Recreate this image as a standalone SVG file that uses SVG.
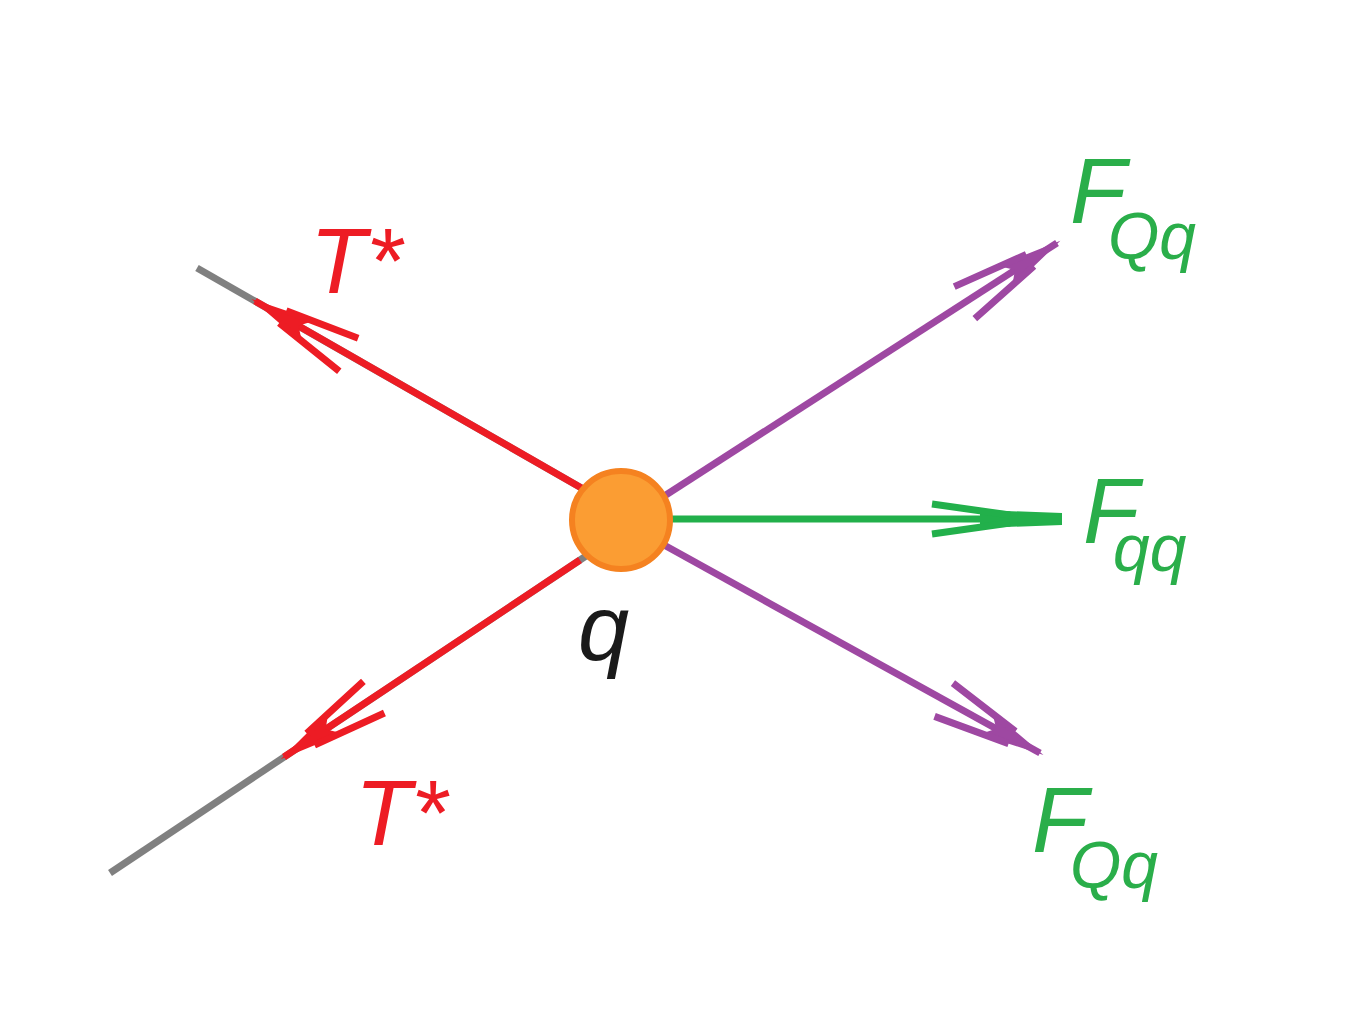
<svg xmlns="http://www.w3.org/2000/svg" width="1345" height="1024" viewBox="0 0 1345 1024">
<style>
.lbl{font-family:"Liberation Sans","Open Sans",sans-serif;font-style:italic}
.red{fill:#ed1c24}
.grn{fill:#2aae4a}
.ln{fill:none;stroke-width:7;stroke-linecap:butt}
</style>
<defs>
<marker id="ahRed" markerUnits="userSpaceOnUse" orient="auto" refX="0" refY="0" markerWidth="10" markerHeight="10" overflow="visible">
<path d="M4,0 L-62,-13 L-50,0 L-62,13 Z" fill="#ed1c24"/>
<path d="M-32,-7 L-108,-19 M-32,7 L-108,19" stroke="#ed1c24" stroke-width="7" fill="none"/>
</marker>
<marker id="ahPur" markerUnits="userSpaceOnUse" orient="auto" refX="0" refY="0" markerWidth="10" markerHeight="10" overflow="visible">
<path d="M4,0 L-62,-13 L-50,0 L-62,13 Z" fill="#9e48a2"/>
<path d="M-32,-7 L-110,-19 M-32,7 L-110,19" stroke="#9e48a2" stroke-width="7" fill="none"/>
</marker>
<marker id="ahGrn" markerUnits="userSpaceOnUse" orient="auto" refX="0" refY="0" markerWidth="10" markerHeight="10" overflow="visible">
<path d="M2,-6 L-80,-9 L-80,9 L2,6 Z" fill="#22b04b"/>
<path d="M-50,-4 L-128,-15 M-50,4 L-128,15" stroke="#22b04b" stroke-width="7" fill="none"/>
</marker>
</defs>
<rect width="1345" height="1024" fill="#ffffff"/>
<g id="connectors">
<line class="ln" x1="197" y1="268" x2="585" y2="490" stroke="#808080"/>
<line class="ln" x1="585" y1="490" x2="255" y2="301" stroke="#ed1c24" marker-end="url(#ahRed)"/>
<line class="ln" x1="110" y1="873" x2="592" y2="552" stroke="#808080"/>
<line class="ln" x1="580" y1="560" x2="284" y2="757" stroke="#ed1c24" marker-end="url(#ahRed)"/>
<line class="ln" x1="655" y1="502" x2="1057" y2="243" stroke="#9e48a2" marker-end="url(#ahPur)"/>
<line class="ln" x1="660" y1="519" x2="1060" y2="519" stroke="#22b04b" marker-end="url(#ahGrn)"/>
<line class="ln" x1="655" y1="540" x2="1040" y2="753" stroke="#9e48a2" marker-end="url(#ahPur)"/>
</g>
<g id="node-q">
<circle cx="621" cy="520" r="49" fill="#fb9d33" stroke="#f58220" stroke-width="6"/>
<text class="lbl" x="578" y="660" font-size="92" fill="#1a1a1a">q</text>
</g>
<g id="label-T-top">
<text class="lbl red" x="310" y="293" font-size="92">T*</text>
</g>
<g id="label-T-bottom">
<text class="lbl red" x="355" y="845" font-size="92">T*</text>
</g>
<g id="label-FQq-top">
<text class="lbl grn" font-size="92"><tspan x="1070" y="223">F</tspan><tspan x="1108" y="259" font-size="66">Qq</tspan></text>
</g>
<g id="label-Fqq">
<text class="lbl grn" font-size="92"><tspan x="1083" y="543">F</tspan><tspan x="1113" y="571" font-size="66">qq</tspan></text>
</g>
<g id="label-FQq-bottom">
<text class="lbl grn" font-size="92"><tspan x="1032" y="852">F</tspan><tspan x="1070" y="888" font-size="66">Qq</tspan></text>
</g>
</svg>
